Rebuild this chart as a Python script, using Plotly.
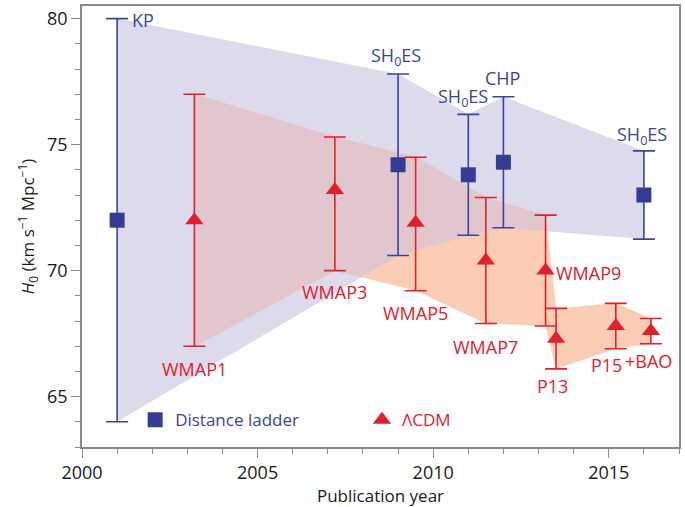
import plotly.graph_objects as go

# ---------------- data ----------------
dl_labels = ["KP", "SH<sub>0</sub>ES", "SH<sub>0</sub>ES", "CHP", "SH<sub>0</sub>ES"]
dl_year = [2001.0, 2009.0, 2011.0, 2012.0, 2016.0]
dl_h0 = [72.0, 74.2, 73.8, 74.3, 73.0]
dl_hi = [80.0, 77.8, 76.2, 76.9, 74.75]
dl_lo = [64.0, 70.6, 71.4, 71.7, 71.25]

cmb_labels = ["WMAP1", "WMAP3", "WMAP5", "WMAP7", "WMAP9", "P13", "P15", "+BAO"]
cmb_year = [2003.2, 2007.2, 2009.5, 2011.5, 2013.2, 2013.5, 2015.2, 2016.2]
cmb_h0 = [72.0, 73.2, 71.9, 70.4, 70.0, 67.3, 67.8, 67.6]
cmb_hi = [77.0, 75.3, 74.5, 72.9, 72.2, 68.5, 68.7, 68.1]
cmb_lo = [67.0, 70.0, 69.2, 67.9, 67.8, 66.1, 66.9, 67.1]

legend_names = ["Distance ladder", "\u039bCDM"]

# ---------------- styles ----------------
BLUE = "#3a449b"
BLUE_MK = "#343c94"
RED = "#e2202c"
LAV = "#dddaeb"
PEACH = "#fbcdb4"
OVER = "#e2c6cd"
AXC = "#8a8a8a"
FONT = "Open Sans"
LBL = 18

# (which end, xanchor, yanchor, xshift, yshift)
dl_label_style = [
    ("hi", "left", "middle", 13, -1),
    ("hi", "center", "bottom", -2, 2),
    ("hi", "right", "bottom", 22, 1),
    ("hi", "center", "bottom", -1, 5),
    ("hi", "center", "bottom", -2, 0),
]
cmb_label_style = [
    ("lo", "center", "top", 0, -9),
    ("lo", "center", "top", 0, -7),
    ("lo", "center", "top", 0, -8),
    ("lo", "center", "top", 0, -9),
    ("mid", "left", "middle", 8, -2),
    ("lo", "center", "top", -4, -3),
    ("lo", "center", "top", -9, -2),
    ("lo", "center", "top", -2, -3),
]


# ---------------- helpers ----------------
def band(xs, hi, lo):
    return list(xs) + list(reversed(xs)), list(hi) + list(reversed(lo))


def clip(subject, quad):
    out = subject
    n = len(quad)
    for i in range(n):
        a = quad[i]
        b = quad[(i + 1) % n]
        inp = out
        out = []
        if not inp:
            break

        def inside(p):
            return (b[0] - a[0]) * (p[1] - a[1]) - (b[1] - a[1]) * (p[0] - a[0]) >= 0

        def inter(p, q):
            dx1, dy1 = q[0] - p[0], q[1] - p[1]
            dx2, dy2 = b[0] - a[0], b[1] - a[1]
            den = dx1 * dy2 - dy1 * dx2
            t = ((a[0] - p[0]) * dy2 - (a[1] - p[1]) * dx2) / den
            return (p[0] + t * dx1, p[1] + t * dy1)

        s = inp[-1]
        for e in inp:
            if inside(e):
                if not inside(s):
                    out.append(inter(s, e))
                out.append(e)
            elif inside(s):
                out.append(inter(s, e))
            s = e
    return out


fig = go.Figure()

# distance-ladder band
bx, by = band(dl_year, dl_hi, dl_lo)
fig.add_trace(go.Scatter(x=bx, y=by, fill="toself", fillcolor=LAV, mode="none",
                         showlegend=False, hoverinfo="skip"))
# LCDM band
rx, ry = band(cmb_year, cmb_hi, cmb_lo)
fig.add_trace(go.Scatter(x=rx, y=ry, fill="toself", fillcolor=PEACH, mode="none",
                         showlegend=False, hoverinfo="skip"))
# overlap of the two bands
red_poly = list(zip(rx, ry))
for i in range(len(dl_year) - 1):
    quad = [(dl_year[i], dl_lo[i]), (dl_year[i + 1], dl_lo[i + 1]),
            (dl_year[i + 1], dl_hi[i + 1]), (dl_year[i], dl_hi[i])]
    piece = clip(red_poly, quad)
    if len(piece) >= 3:
        px = [p[0] for p in piece] + [piece[0][0]]
        py = [p[1] for p in piece] + [piece[0][1]]
        fig.add_trace(go.Scatter(x=px, y=py, fill="toself", fillcolor=OVER,
                                 mode="lines", line=dict(color=OVER, width=0.8),
                                 showlegend=False, hoverinfo="skip"))

# distance ladder points
fig.add_trace(go.Scatter(
    x=dl_year, y=dl_h0, mode="markers", name=legend_names[0], legend="legend",
    marker=dict(symbol="square", size=15, color=BLUE_MK),
    error_y=dict(type="data", symmetric=False,
                 array=[h - v for h, v in zip(dl_hi, dl_h0)],
                 arrayminus=[v - l for v, l in zip(dl_h0, dl_lo)],
                 color=BLUE, thickness=1.6, width=11),
))
# LCDM points
fig.add_trace(go.Scatter(
    x=cmb_year, y=cmb_h0, mode="markers", name=legend_names[1], legend="legend2",
    marker=dict(symbol="triangle-up", size=16, color=RED),
    error_y=dict(type="data", symmetric=False,
                 array=[h - v for h, v in zip(cmb_hi, cmb_h0)],
                 arrayminus=[v - l for v, l in zip(cmb_h0, cmb_lo)],
                 color=RED, thickness=1.6, width=11),
))

annots = []
for lab, x, v, hi, lo, st in zip(dl_labels, dl_year, dl_h0, dl_hi, dl_lo, dl_label_style):
    y = {"hi": hi, "lo": lo, "mid": v}[st[0]]
    annots.append(dict(x=x, y=y, text=lab, showarrow=False, xanchor=st[1], yanchor=st[2],
                       xshift=st[3], yshift=st[4], font=dict(family=FONT, size=LBL, color=BLUE)))
for lab, x, v, hi, lo, st in zip(cmb_labels, cmb_year, cmb_h0, cmb_hi, cmb_lo, cmb_label_style):
    y = {"hi": hi, "lo": lo, "mid": v}[st[0]]
    annots.append(dict(x=x, y=y, text=lab, showarrow=False, xanchor=st[1], yanchor=st[2],
                       xshift=st[3], yshift=st[4], font=dict(family=FONT, size=LBL, color=RED)))

axis_common = dict(
    showline=True, linecolor=AXC, linewidth=1.5, mirror=True,
    ticks="outside", ticklen=9, tickwidth=1.3, tickcolor=AXC,
    showgrid=False, zeroline=False,
    tickfont=dict(family=FONT, size=18, color="#1a1a1a"),
)

fig.update_layout(
    width=685, height=507,
    margin=dict(l=82, r=6, t=4, b=60),
    plot_bgcolor="white", paper_bgcolor="white",
    font=dict(family=FONT, size=17, color="#1a1a1a"),
    xaxis=dict(range=[2000, 2017], tick0=2000, dtick=5,
               minor=dict(dtick=1, ticks="outside", ticklen=5, tickcolor=AXC, tickwidth=1.3),
               title=dict(text="Publication year", font=dict(family=FONT, size=17), standoff=4),
               **axis_common),
    yaxis=dict(range=[63, 80.5], tick0=0, dtick=5,
               minor=dict(dtick=1, ticks="outside", ticklen=5, tickcolor=AXC, tickwidth=1.3),
               title=dict(text="<i>H</i><sub>0</sub> (km s<sup>\u22121</sup> Mpc<sup>\u22121</sup>)",
                          font=dict(family=FONT, size=17), standoff=8),
               **axis_common),
    legend=dict(x=0.089, y=0.061, xanchor="left", yanchor="middle", bgcolor="rgba(0,0,0,0)",
                font=dict(family=FONT, size=17, color=BLUE), itemclick=False),
    legend2=dict(x=0.469, y=0.061, xanchor="left", yanchor="middle", bgcolor="rgba(0,0,0,0)",
                 font=dict(family=FONT, size=17, color=RED), itemclick=False),
    annotations=annots,
)

fig.write_html("out.html")
